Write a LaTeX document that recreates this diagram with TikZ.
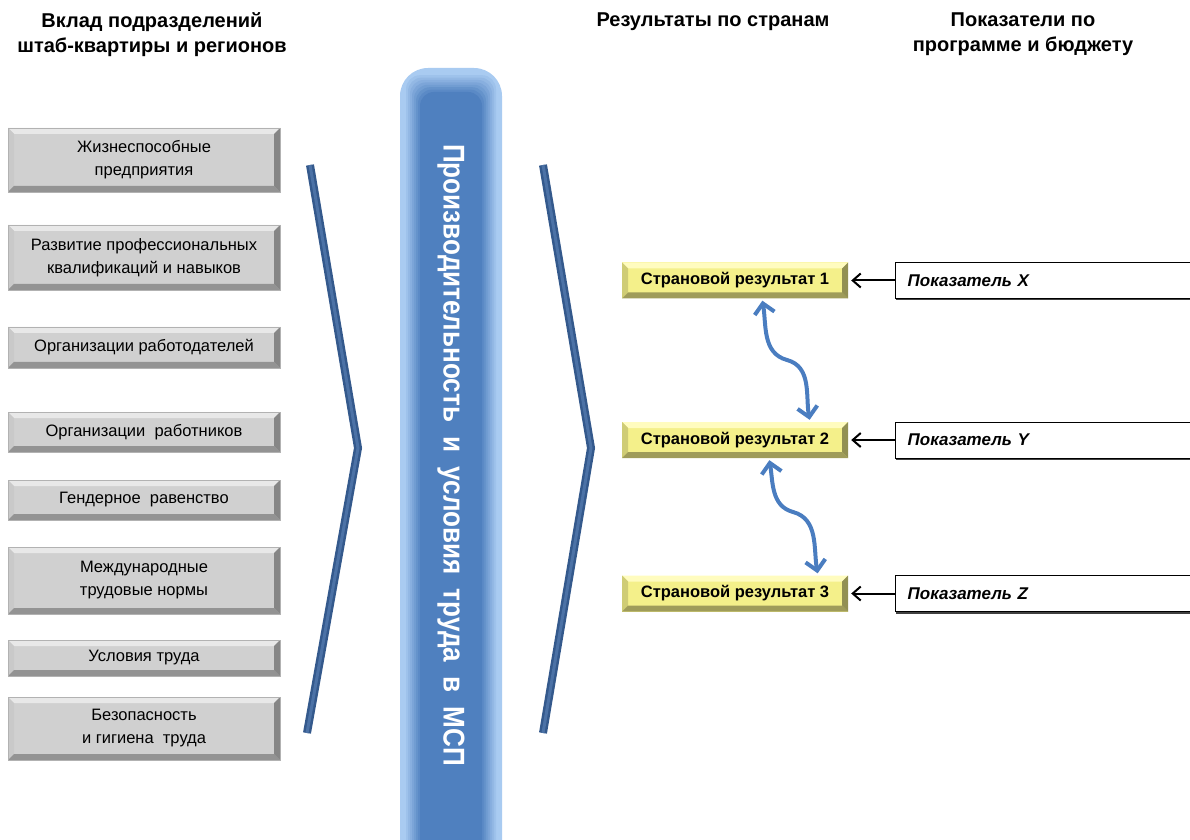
\documentclass[tikz,border=0pt]{standalone}
\usepackage{fontspec}
\setmainfont{Liberation Sans}
\usepackage{graphicx}
\usetikzlibrary{
    positioning, % placement relative to other nodes
    arrows.meta, % arrow tips
    shadows
}

\definecolor{barlight}{HTML}{A9CBF1}
\definecolor{bardark}{HTML}{4F80BF}
\definecolor{chevdark}{HTML}{34598C}
\definecolor{chevmid}{HTML}{4C72A6}
\definecolor{linkblue}{HTML}{4A7DC0}
\definecolor{boxgray}{HTML}{D0D0D0}
\definecolor{resyellow}{HTML}{F4F08A}

\begin{document}
\begin{tikzpicture}[x=1pt, y=1pt]

    % --- Styles ---
    \tikzset{
        bevel/.style n args={4}{path picture={
            \coordinate (bnw) at (path picture bounding box.north west);
            \coordinate (bne) at (path picture bounding box.north east);
            \coordinate (bsw) at (path picture bounding box.south west);
            \coordinate (bse) at (path picture bounding box.south east);
            \fill[#1] (bnw) -- (bne) -- ([shift={(-6pt,-6pt)}]bne) -- ([shift={(6pt,-6pt)}]bnw) -- cycle;
            \fill[#2] (bnw) -- (bsw) -- ([shift={(6pt,6pt)}]bsw) -- ([shift={(6pt,-6pt)}]bnw) -- cycle;
            \fill[#3] (bsw) -- (bse) -- ([shift={(-6pt,6pt)}]bse) -- ([shift={(6pt,6pt)}]bsw) -- cycle;
            \fill[#4] (bne) -- (bse) -- ([shift={(-6pt,6pt)}]bse) -- ([shift={(-6pt,-6pt)}]bne) -- cycle;
        }},
        title/.style={font=\bfseries\fontsize{20}{25}\selectfont, align=center},
        unitbox/.style={rectangle, fill=boxgray, draw=gray!60, line width=0.4pt,
            minimum width=272pt, inner sep=0pt, align=center,
            font=\fontsize{16.5}{23}\selectfont,
            bevel={gray!18}{gray!42}{gray!85}{gray!95}},
        resbox/.style={rectangle, fill=resyellow, minimum width=226pt, minimum height=36pt,
            inner sep=0pt, font=\bfseries\fontsize{16.5}{18}\selectfont,
            bevel={yellow!25!white}{resyellow!85!black}{resyellow!65!black}{resyellow!60!black}},
        indbox/.style={rectangle, draw=black, line width=1pt, fill=white,
            minimum height=36pt, text width=290pt, inner xsep=12pt, align=left,
            font=\bfseries\itshape\fontsize{17}{18}\selectfont,
            drop shadow={shadow xshift=0pt, shadow yshift=-2pt, fill=gray!50!black, opacity=1}},
        chevron/.style={draw=chevdark, double=chevmid, double distance=3pt, line width=2.5pt},
        inarrow/.style={-{Straight Barb[length=8pt,width=14pt]}, line width=2pt, black, shorten >=3pt},
        link/.style={{Straight Barb[length=10pt,width=20pt]}-{Straight Barb[length=10pt,width=20pt]},
            line width=4pt, linkblue, shorten <=2pt, shorten >=2pt},
        bartext/.style={text=white, font=\bfseries\fontsize{30}{30}\selectfont, inner sep=0pt}
    }

    \useasboundingbox (0,0) rectangle (1190,839);
    \clip (0,0) rectangle (1190,839);

    % --- Titles ---
    \node[title] (t_units) at (152,804.5) {Вклад подразделений\\штаб-квартиры и регионов};
    \node[title] (t_res) at (713,817) {Результаты по странам};
    \node[title] (t_ind) at (1023,804.5) {Показатели по\\программе и бюджету};

    % --- Central bar ---
    \fill[barlight, rounded corners=28pt] (400,-40) rectangle (502,771);
    \foreach \i in {0,...,8} {
        \pgfmathsetmacro\d{4+2*\i}
        \pgfmathtruncatemacro\c{\i*12.5}
        \fill[bardark!\c!barlight, rounded corners=14pt] (400+\d,-40) rectangle (502-\d,771-1.2*\d);
    }
    \node[bartext, rotate=-90] (bar) at (451,384)
        {\scalebox{0.87}[1]{Производительность\hspace{8pt} и\hspace{8pt} условия\hspace{8pt} труда\hspace{8pt} в\hspace{8pt} МСП}};

    % --- Chevrons ---
    \draw[chevron] (310,674) -- (358,391) -- (307,106);
    \draw[chevron] (543,674) -- (591,391) -- (543,106);

    % --- Contributions of units ---
    \node[unitbox, minimum height=64pt] (u1) at (144,679) {Жизнеспособные\\предприятия};
    \node[unitbox, minimum height=65pt] (u2) at (144,581.5) {Развитие профессиональных\\квалификаций и навыков};
    \node[unitbox, minimum height=41pt] (u3) at (144,491.5) {Организации работодателей};
    \node[unitbox, minimum height=40pt] (u4) at (144,407) {Организации\ \ работников};
    \node[unitbox, minimum height=40pt] (u5) at (144,339) {Гендерное\ \ равенство};
    \node[unitbox, minimum height=67pt] (u6) at (144,258.5) {Международные\\трудовые нормы};
    \node[unitbox, minimum height=36pt] (u7) at (144,181) {Условия труда};
    \node[unitbox, minimum height=63pt] (u8) at (144,110.5) {Безопасность\\и гигиена\ \ труда};

    % --- Country results ---
    \node[resbox] (r1) at (735,558.5) {Страновой результат 1};
    \node[resbox] (r2) at (735,399) {Страновой результат 2};
    \node[resbox] (r3) at (735,245.5) {Страновой результат 3};

    % --- Indicators ---
    \node[indbox, right=47pt of r1] (i1) {Показатель X};
    \node[indbox, right=47pt of r2] (i2) {Показатель Y};
    \node[indbox, right=47pt of r3] (i3) {Показатель Z};

    \draw[inarrow] (i1) -- (r1);
    \draw[inarrow] (i2) -- (r2);
    \draw[inarrow] (i3) -- (r3);

    % --- Links between results ---
    \coordinate (m1) at (787,479);
    \coordinate (m2) at (793,327);
    \draw[link] ([xshift=27pt]r1.south) to[out=-80,in=165] (m1) to[out=-15,in=100] ([xshift=75pt]r2.north);
    \draw[link] ([xshift=34pt]r2.south) to[out=-80,in=165] (m2) to[out=-15,in=100] ([xshift=83pt]r3.north);

\end{tikzpicture}
\end{document}
